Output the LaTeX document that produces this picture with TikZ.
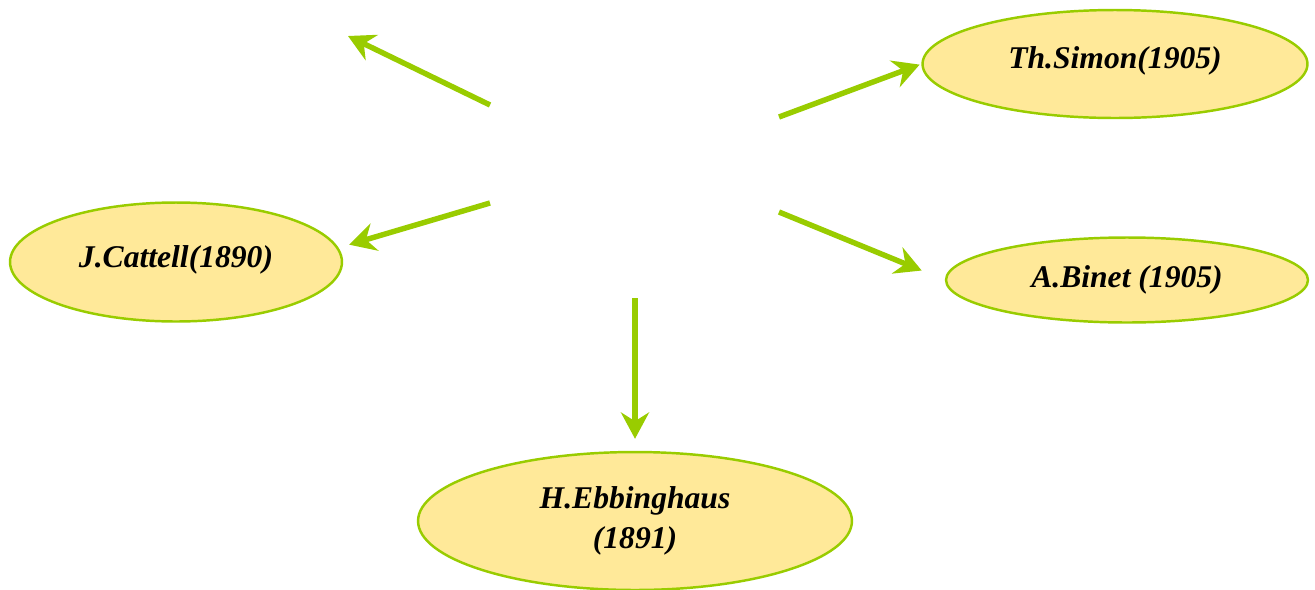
\documentclass[tikz,border=0pt]{standalone}
\usepackage{fontspec}
\setmainfont{Liberation Serif}
\usetikzlibrary{shapes.geometric, arrows.meta}
\definecolor{leaf}{HTML}{99CC00}
\definecolor{sand}{HTML}{FFE999}

\begin{document}
\begin{tikzpicture}[x=0.02cm, y=-0.02cm,
		scholar/.style={ellipse, draw=leaf, line width=1.4pt, fill=sand, inner sep=0pt,
			font=\fontsize{18}{22.7}\selectfont\bfseries\itshape, align=center},
		arr/.style={leaf, line width=3.1pt, -{Stealth[length=15pt, width=16pt, inset=5pt]}}]
				\useasboundingbox (0, 0) rectangle (1315, 589);
				% the five names
				\node [scholar, minimum width=7.7cm, minimum height=2.16cm] (simon) at (1115, 64) {\raisebox{7pt}{Th.Simon(1905)}};
				\node [scholar, minimum width=6.64cm, minimum height=2.38cm] (cattell) at (176, 262) {\raisebox{6pt}{J.Cattell(1890)}};
				\node [scholar, minimum width=7.24cm, minimum height=1.7cm] (binet) at (1127, 280) {A.Binet (1905)};
				\node [scholar, minimum width=8.68cm, minimum height=2.76cm] (ebbinghaus) at (635, 521) {\raisebox{-3pt}{H.Ebbinghaus}\\\raisebox{-3pt}{(1891)}};
				% arrows out of the blank middle
				\coordinate (hub-nw) at (490, 105);
				\coordinate (hub-ne) at (779, 117);
				\coordinate (hub-w) at (490, 203);
				\coordinate (hub-e) at (779, 212);
				\coordinate (hub-s) at (635, 298);
				\coordinate (blank-nw) at (348, 36);
				\draw [arr] (hub-nw) -- (blank-nw);
				\draw [arr, shorten >=1pt] (hub-ne) -- (simon.west);
				\draw [arr, shorten >=0.22cm] (hub-w) -- (cattell.5);
				\draw [arr, shorten >=0.5cm] (hub-e) -- (binet.west);
				\draw [arr, shorten >=0.24cm] (hub-s) -- (ebbinghaus.north);
			\end{tikzpicture}
\end{document}
